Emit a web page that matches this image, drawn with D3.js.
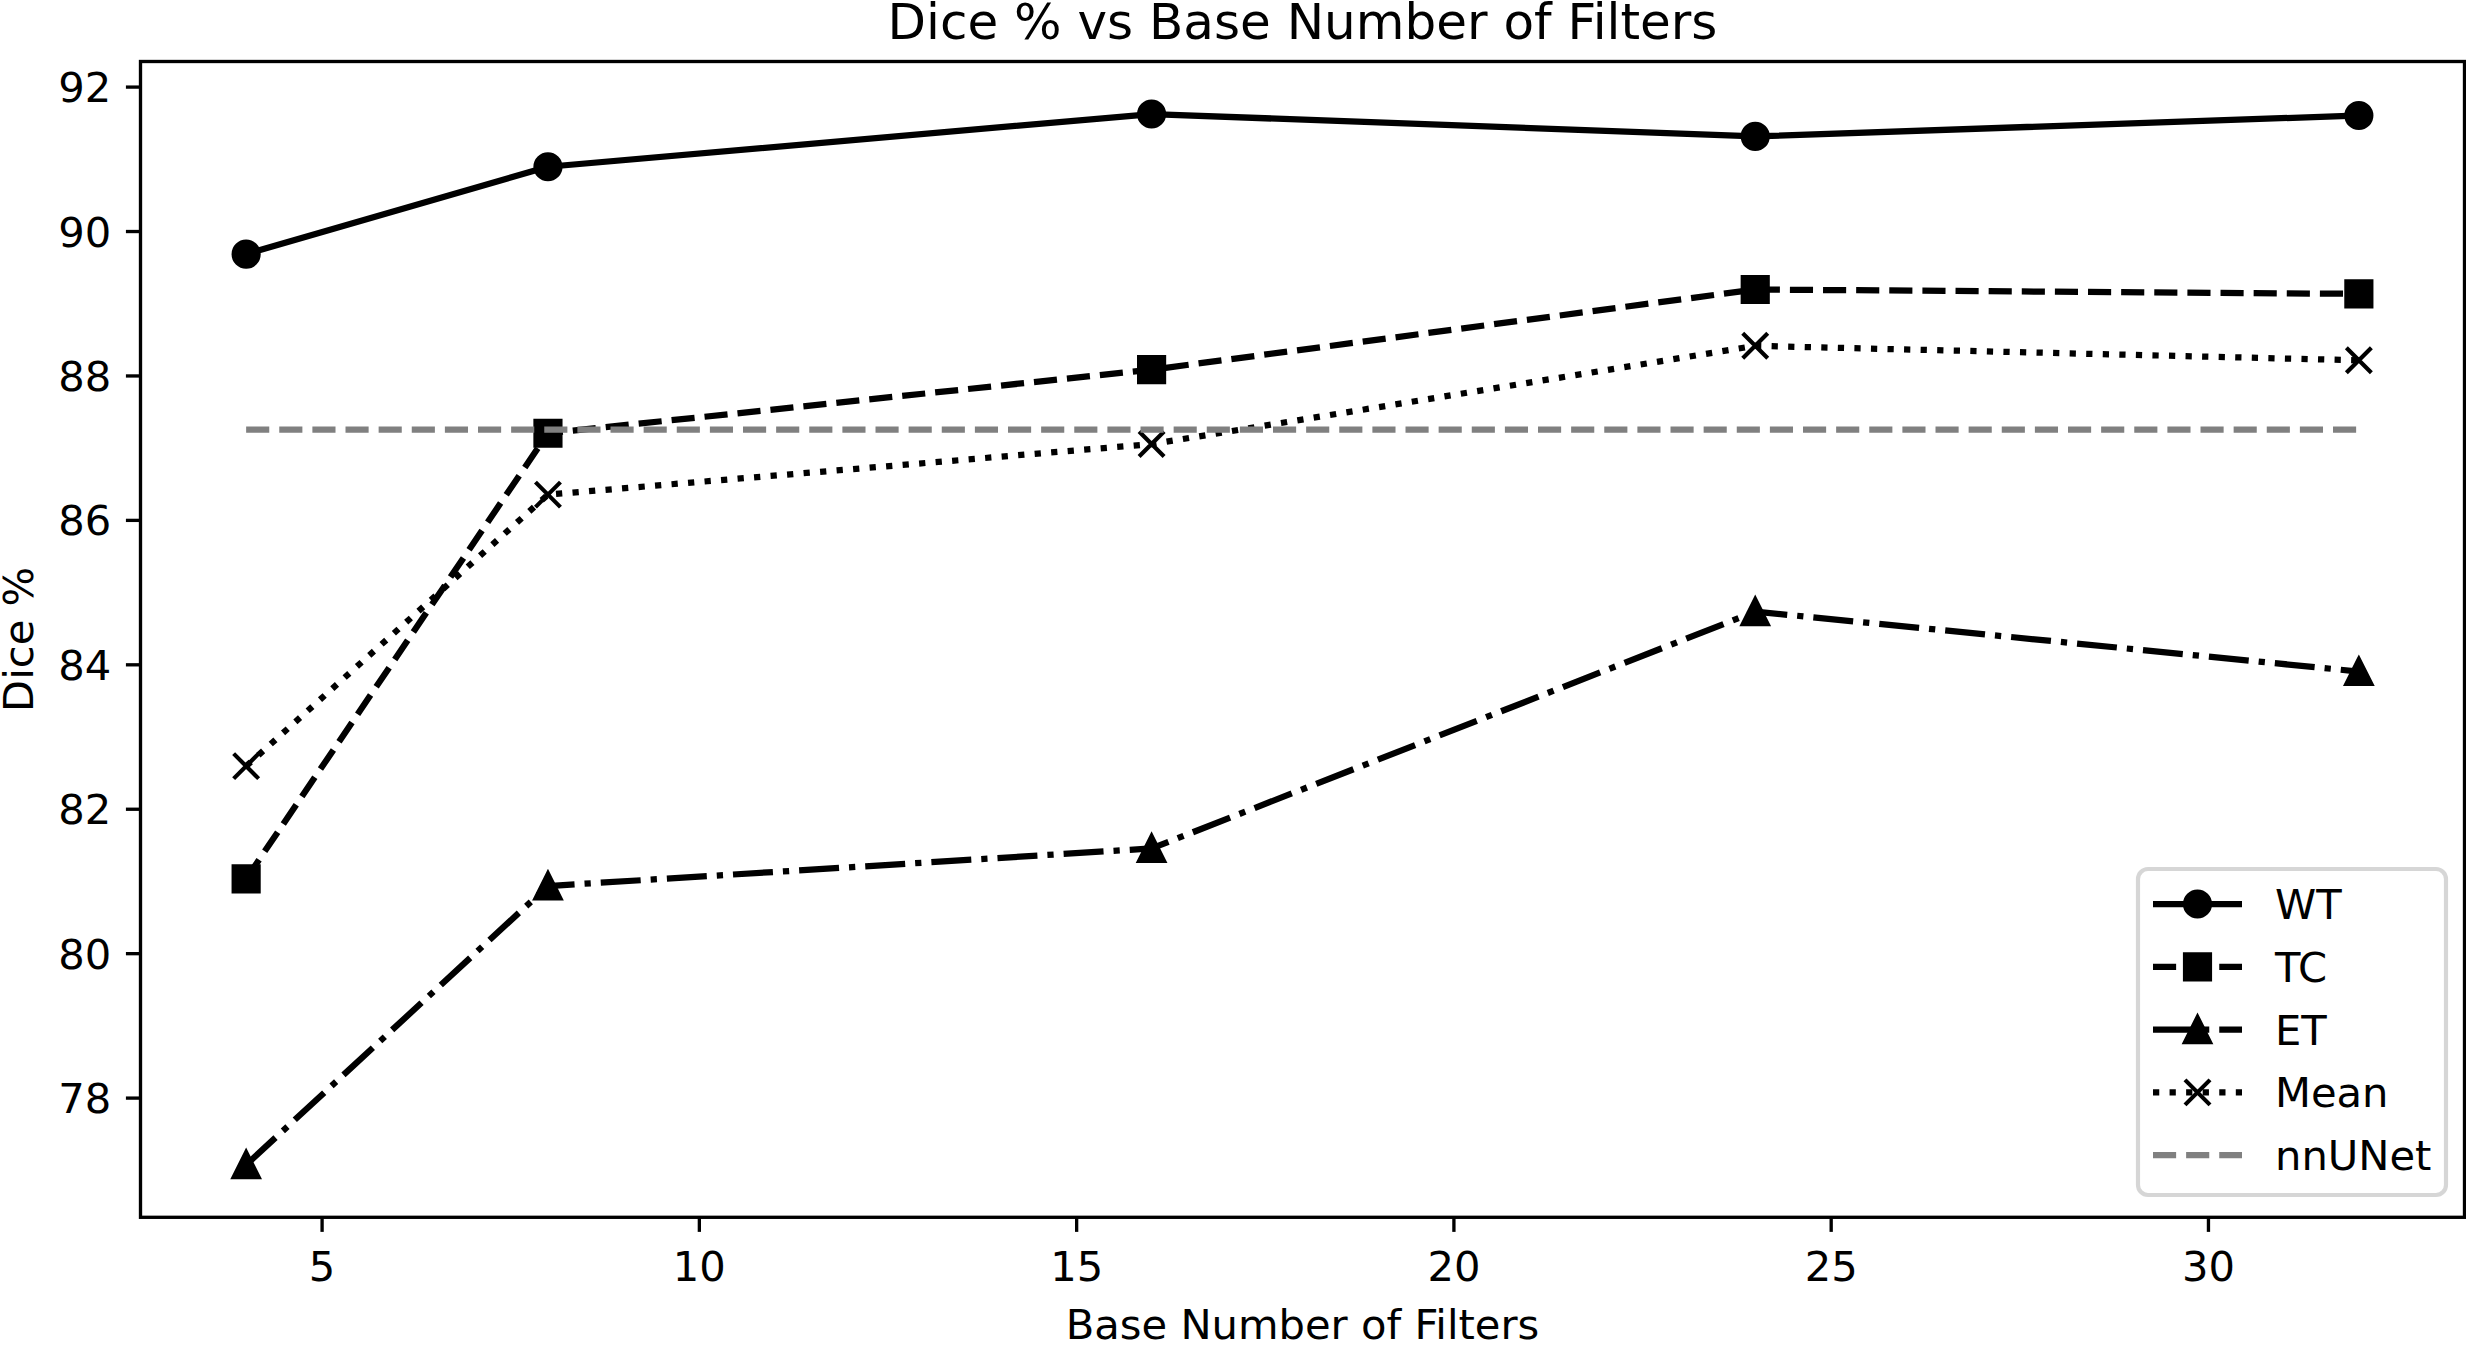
<!DOCTYPE html>
<html>
<head>
<meta charset="utf-8">
<script src="https://cdn.jsdelivr.net/npm/d3@7"></script>
<style>
  body { margin: 0; background: #fff; }
  svg text { font-family: "DejaVu Sans", sans-serif; fill: #000; }
</style>
</head>
<body>
<div id="screen"></div>
<script>
// values
const filters = [4, 8, 16, 24, 32];
const wtValues = [89.68, 90.89, 91.62, 91.31, 91.60];
const tcValues = [81.03, 87.20, 88.08, 89.19, 89.13];
const etValues = [77.07, 80.93, 81.45, 84.73, 83.90];
const meanValues = [82.59, 86.35, 87.05, 88.41, 88.21];
const nnunetValue = 87.25;
const xTicks = [5, 10, 15, 20, 25, 30];
const yTicks = [78, 80, 82, 84, 86, 88, 90, 92];

const W = 2466, H = 1347;
const px = 300 / 72; // points -> pixels at 300 dpi
const lw = 1.5 * px;
const fontSize = 10 * px;

const series = [
    { name: "WT", values: wtValues, dash: null, marker: "circle", color: "#000" },
    { name: "TC", values: tcValues, dash: [3.7 * lw, 1.6 * lw], marker: "square", color: "#000" },
    { name: "ET", values: etValues, dash: [6.4 * lw, 1.6 * lw, 1 * lw, 1.6 * lw], marker: "triangle", color: "#000" },
    { name: "Mean", values: meanValues, dash: [1 * lw, 1.65 * lw], marker: "x", color: "#000" },
    { name: "nnUNet", values: filters.map(() => nnunetValue), dash: [3.7 * lw, 1.6 * lw], marker: null, color: "#808080" }
];

const plot = { left: 140.5, right: 2464.5, top: 61.5, bottom: 1217.3 };

// matplotlib style 5% margins
const padDomain = function(lo, hi) {
    var m = (hi - lo) * 0.05;
    return [lo - m, hi + m];
};

var allY = [].concat(wtValues, tcValues, etValues, meanValues, [nnunetValue]);
var x = d3.scaleLinear().domain(padDomain(d3.min(filters), d3.max(filters))).range([plot.left, plot.right]);
var y = d3.scaleLinear().domain(padDomain(d3.min(allY), d3.max(allY))).range([plot.bottom, plot.top]);

var svg = d3.select("#screen").append("svg").attr("width", W).attr("height", H);

const ms = 6 * px;       // marker size
const mew = 1 * px;      // marker edge width

const markerPath = function(kind) {
    var h = ms / 2;
    if (kind == "circle") return d3.arc()({ innerRadius: 0, outerRadius: h, startAngle: 0, endAngle: 2 * Math.PI });
    if (kind == "square") return `M${-h},${-h}H${h}V${h}H${-h}Z`;
    if (kind == "triangle") return `M0,${-h}L${-h},${h}L${h},${h}Z`;
    if (kind == "x") return `M${-h},${-h}L${h},${h}M${-h},${h}L${h},${-h}`;
    return "";
};

const drawMarker = function(g, kind, cx, cy, color) {
    g.append("path")
        .attr("d", markerPath(kind))
        .attr("transform", `translate(${cx},${cy})`)
        .attr("fill", kind == "x" ? "none" : color)
        .attr("stroke", color)
        .attr("stroke-width", mew)
        .attr("stroke-linejoin", "miter");
};

// axes
var xAxis = d3.axisBottom(x).tickValues(xTicks).tickSize(3.5 * px).tickPadding(3.5 * px).tickFormat(d3.format("d"));
var yAxis = d3.axisLeft(y).tickValues(yTicks).tickSize(3.5 * px).tickPadding(3.5 * px).tickFormat(d3.format("d"));

var gx = svg.append("g").attr("transform", `translate(0,${plot.bottom})`).call(xAxis);
var gy = svg.append("g").attr("transform", `translate(${plot.left},0)`).call(yAxis);
[gx, gy].forEach(g => {
    g.select(".domain").remove();
    g.selectAll("line").attr("stroke", "#000").attr("stroke-width", 0.8 * px);
    g.selectAll("text").style("font-size", fontSize + "px").style("font-family", "DejaVu Sans").attr("fill", "#000");
});
gx.selectAll("text").attr("dy", "0.83em");
gy.selectAll("text").attr("dy", "0.36em");

// lines + markers
var lines = svg.append("g");
series.forEach(s => {
    var line = d3.line().x((d, i) => x(filters[i])).y(d => y(d));
    lines.append("path")
        .datum(s.values)
        .attr("d", line)
        .attr("fill", "none")
        .attr("stroke", s.color)
        .attr("stroke-width", lw)
        .attr("stroke-linejoin", "round")
        .attr("stroke-linecap", s.dash ? "butt" : "square")
        .attr("stroke-dasharray", s.dash ? s.dash.join(",") : null);
    if (s.marker) {
        s.values.forEach((v, i) => drawMarker(lines, s.marker, x(filters[i]), y(v), s.color));
    }
});

// frame
svg.append("rect")
    .attr("x", plot.left).attr("y", plot.top)
    .attr("width", plot.right - plot.left).attr("height", plot.bottom - plot.top)
    .attr("fill", "none").attr("stroke", "#000").attr("stroke-width", 0.8 * px);

// titles
svg.append("text")
    .text("Dice % vs Base Number of Filters")
    .attr("x", (plot.left + plot.right) / 2).attr("y", 39)
    .attr("text-anchor", "middle")
    .style("font-size", (12 * px) + "px");

svg.append("text")
    .text("Base Number of Filters")
    .attr("x", (plot.left + plot.right) / 2).attr("y", 1339)
    .attr("text-anchor", "middle")
    .style("font-size", fontSize + "px");

svg.append("text")
    .text("Dice %")
    .attr("transform", `translate(33,${(plot.top + plot.bottom) / 2}) rotate(-90)`)
    .attr("text-anchor", "middle")
    .style("font-size", fontSize + "px");

// legend
var legend = svg.append("g");
legend.append("rect")
    .attr("x", 2138).attr("y", 869).attr("width", 308).attr("height", 326)
    .attr("rx", 10).attr("ry", 10)
    .attr("fill", "#fff").attr("fill-opacity", 0.8)
    .attr("stroke", "#cccccc").attr("stroke-opacity", 0.8).attr("stroke-width", 1 * px);

series.forEach((s, i) => {
    var ly = 904 + i * 62.8;
    legend.append("line")
        .attr("x1", 2153).attr("x2", 2242).attr("y1", ly).attr("y2", ly)
        .attr("stroke", s.color)
        .attr("stroke-width", lw)
        .attr("stroke-linecap", "butt")
        .attr("stroke-dasharray", s.dash ? s.dash.join(",") : null);
    if (s.marker) drawMarker(legend, s.marker, 2197.5, ly, s.color);
    legend.append("text")
        .text(s.name)
        .attr("x", 2275).attr("y", ly).attr("dy", "0.36em")
        .style("font-size", fontSize + "px");
});
</script>
</body>
</html>
